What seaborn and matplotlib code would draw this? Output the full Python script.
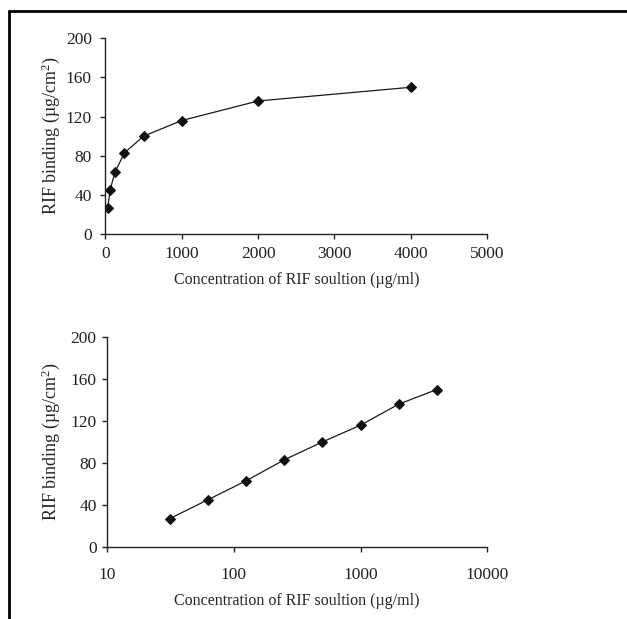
import numpy as np
import pandas as pd
import matplotlib
matplotlib.use("Agg")
import matplotlib.pyplot as plt
import seaborn as sns
from matplotlib.lines import Line2D

# RIF binding data
conc = [31.25, 62.5, 125, 250, 500, 1000, 2000, 4000]
binding = [27, 45, 63, 83, 100, 116, 136, 150]
df = pd.DataFrame({"conc": conc, "binding": binding})

sns.set_style("ticks")
plt.rcParams['font.family'] = ['Liberation Serif', 'DejaVu Serif']
plt.rcParams['mathtext.default'] = 'regular'
plt.rcParams['axes.linewidth'] = 1.0

fig = plt.figure(figsize=(6.27, 6.19), dpi=100)
ax1 = fig.add_axes([0.168, 0.622, 0.609, 0.316])
ax2 = fig.add_axes([0.171, 0.1165, 0.606, 0.339])

xlab = "Concentration of RIF soultion (µg/ml)"
ylab = "RIF binding (µg/cm$^2$)"

for ax in (ax1, ax2):
    sns.lineplot(data=df, x="conc", y="binding", ax=ax, color="#1a1a1a",
                 linewidth=0.9, marker="D", markersize=5.5,
                 markeredgecolor="#111111", markerfacecolor="#111111")
    ax.set_ylim(0, 200)
    ax.set_yticks([0, 40, 80, 120, 160, 200])
    ax.set_ylabel(ylab, fontsize=13)
    ax.tick_params(direction="out", length=3.7, width=1, labelsize=12.5,
                   colors="#222222")
    for s in ("top", "right"):
        ax.spines[s].set_visible(False)
    ax.spines["left"].set_color("#222222")
    ax.spines["bottom"].set_color("#222222")

ax1.set_xlim(0, 5000)
ax1.set_xticks([0, 1000, 2000, 3000, 4000, 5000])
ax1.tick_params(axis="x", pad=5)
ax1.tick_params(axis="y", pad=6)
ax1.set_xlabel(xlab, fontsize=11.5, labelpad=7)
ax1.yaxis.set_label_coords(-0.113, 0.5)

ax2.set_xscale("log")
ax2.set_xlim(10, 10000)
ax2.set_xticks([10, 100, 1000, 10000])
ax2.set_xticklabels(["10", "100", "1000", "10000"])
ax2.minorticks_off()
ax2.tick_params(axis="x", pad=11)
ax2.tick_params(axis="y", pad=4)
ax2.set_xlabel(xlab, fontsize=11.5, labelpad=7)
ax2.yaxis.set_label_coords(-0.119, 0.5)

# frame around the figure (left and top edges)
fig.add_artist(Line2D([0.014, 0.014], [0, 0.983], transform=fig.transFigure,
                      color="black", linewidth=2))
fig.add_artist(Line2D([0.014, 1.0], [0.983, 0.983], transform=fig.transFigure,
                      color="black", linewidth=2))

fig.savefig("out.png", dpi=100)
